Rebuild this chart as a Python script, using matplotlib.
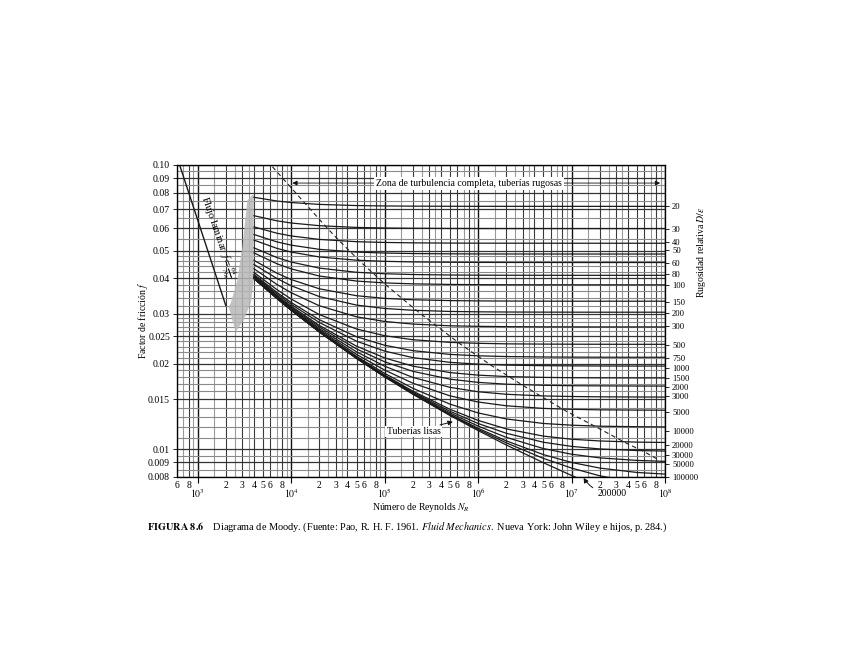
import matplotlib as mpl
mpl.use('Agg')
import matplotlib.pyplot as plt

plt.rcParams['font.family'] = ['Liberation Serif', 'DejaVu Serif']
plt.rcParams['mathtext.fontset'] = 'stix'
plt.rcParams['font.size'] = 7

# numero de Reynolds donde se leen las curvas
re_pts = [4e3, 7e3, 1e4, 2e4, 5e4, 1e5, 2e5, 5e5, 1e6, 2e6, 5e6, 1e7, 2e7, 5e7, 1e8]

f_20 = [.07699, .07473, .07380, .07269, .07201, .07178, .07167, .07160, .07157, .07156, .07156, .07155, .07155, .07155, .07155]
f_30 = [.06633, .06366, .06253, .06118, .06033, .06005, .05991, .05982, .05979, .05978, .05977, .05976, .05976, .05976, .05976]
f_40 = [.06059, .05759, .05631, .05474, .05375, .05342, .05325, .05315, .05311, .05310, .05309, .05308, .05308, .05308, .05308]
f_50 = [.05696, .05369, .05227, .05052, .04941, .04903, .04883, .04872, .04868, .04866, .04865, .04864, .04864, .04864, .04864]
f_60 = [.05444, .05095, .04942, .04750, .04627, .04585, .04563, .04550, .04545, .04543, .04542, .04541, .04541, .04541, .04541]
f_80 = [.05114, .04731, .04559, .04340, .04196, .04146, .04120, .04104, .04099, .04096, .04095, .04094, .04094, .04094, .04094]
f_100 = [.04908, .04499, .04313, .04071, .03908, .03850, .03821, .03803, .03796, .03793, .03792, .03791, .03791, .03790, .03790]
f_150 = [.04621, .04169, .03956, .03671, .03471, .03397, .03359, .03336, .03328, .03324, .03321, .03320, .03320, .03320, .03320]
f_200 = [.04471, .03993, .03763, .03447, .03217, .03131, .03085, .03056, .03047, .03042, .03039, .03038, .03037, .03037, .03037]
f_300 = [.04317, .03807, .03556, .03200, .02926, .02818, .02759, .02721, .02709, .02702, .02698, .02697, .02696, .02696, .02696]
f_500 = [.04189, .03651, .03379, .02979, .02651, .02511, .02431, .02379, .02361, .02351, .02346, .02344, .02343, .02342, .02342]
f_750 = [.04124, .03570, .03286, .02858, .02490, .02324, .02225, .02158, .02134, .02121, .02114, .02111, .02110, .02109, .02109]
f_1000 = [.04091, .03529, .03238, .02795, .02402, .02217, .02103, .02024, .01994, .01979, .01970, .01967, .01965, .01964, .01964]
f_1500 = [.04058, .03487, .03189, .02729, .02307, .02098, .01963, .01863, .01825, .01804, .01792, .01787, .01785, .01784, .01784]
f_2000 = [.04041, .03466, .03164, .02695, .02256, .02033, .01882, .01766, .01721, .01696, .01681, .01675, .01673, .01671, .01670]
f_3000 = [.04024, .03444, .03139, .02660, .02204, .01962, .01792, .01653, .01595, .01563, .01542, .01535, .01531, .01529, .01528]
f_5000 = [.04011, .03427, .03119, .02632, .02159, .01901, .01710, .01543, .01468, .01424, .01394, .01384, .01378, .01375, .01374]
f_10000 = [.04001, .03414, .03104, .02610, .02125, .01851, .01641, .01443, .01344, .01280, .01234, .01217, .01207, .01202, .01200]
f_20000 = [.03996, .03408, .03096, .02599, .02107, .01826, .01604, .01384, .01265, .01181, .01114, .01086, .01071, .01061, .01058]
f_30000 = [.03994, .03405, .03093, .02596, .02101, .01817, .01591, .01362, .01234, .01140, .01060, .01025, .01004, .00991, .00987]
f_50000 = [.03993, .03404, .03091, .02593, .02096, .01810, .01580, .01344, .01208, .01103, .01007, .00962, .00934, .00915, .00908]
f_100000 = [.03992, .03402, .03090, .02591, .02093, .01804, .01572, .01330, .01187, .01072, .00959, .00900, .00860, .00830, .00819]
f_200000 = [.03991, .03402, .03089, .02589, .02091, .01802, .01568, .01323, .01176, .01055, .00930, .00860, .00808, .00765, .00747]
f_lisa = [.03991, .03401, .03088, .02588, .02089, .01799, .01564, .01316, .01165, .01037, .00898, .00810, .00734, .00649, .00594]

curves = [f_20, f_30, f_40, f_50, f_60, f_80, f_100, f_150, f_200, f_300, f_500, f_750, f_1000,
          f_1500, f_2000, f_3000, f_5000, f_10000, f_20000, f_30000, f_50000, f_100000, f_200000, f_lisa]

lam_re = [600, 2000]
lam_f = [0.1067, 0.032]
trans_re = [3850, 3400, 3006, 2658, 2254, 2146, 2547, 3105, 3690, 3975, 3975]
trans_f = [0.0784, 0.0753, 0.0516, 0.0394, 0.0327, 0.0317, 0.0259, 0.0285, 0.0327, 0.0394, 0.0784]
dash_re = [6300, 1.5e4, 2.45e4, 3.47e4, 5.63e4, 1.03e5, 2.3e5, 6.53e5, 1.43e6, 3.1e6, 8.53e6, 1.83e7, 3.9e7, 6.05e7, 8.5e7]
dash_f = [0.0986, 0.0716, 0.0598, 0.0531, 0.0454, 0.0379, 0.0304, 0.0234, 0.0196, 0.0167, 0.0137, 0.0120, 0.0105, 0.0098, 0.0092]

right_lbl = ['20', '30', '40', '50', '60', '80', '100', '150', '200', '300', '500', '750', '1000',
             '1500', '2000', '3000', '5000', '10000', '20000', '30000', '50000', '100000']
right_f = [0.0719, 0.0594, 0.0536, 0.0502, 0.0451, 0.0412, 0.0377, 0.0328, 0.0301, 0.0271, 0.0233,
           0.0209, 0.0192, 0.0177, 0.0165, 0.0153, 0.0135, 0.01157, 0.01033, 0.00947, 0.00883, 0.00795]
left_ticks = [0.10, 0.09, 0.08, 0.07, 0.06, 0.05, 0.04, 0.03, 0.025, 0.02, 0.015, 0.01, 0.009, 0.008]
left_lbl = ['0.10', '0.09', '0.08', '0.07', '0.06', '0.05', '0.04', '0.03', '0.025', '0.02', '0.015',
            '0.01', '0.009', '0.008']
y_light = [0.0085, 0.0095, 0.011, 0.012, 0.013, 0.014, 0.016, 0.017, 0.018, 0.019, 0.021, 0.022,
           0.023, 0.024, 0.026, 0.027, 0.028, 0.029, 0.032, 0.034, 0.036, 0.038, 0.042, 0.044,
           0.046, 0.048, 0.055, 0.065, 0.075, 0.085, 0.095]

fig = plt.figure(figsize=(8.48, 6.72), dpi=100)
ax = fig.add_axes([177 / 848, 1 - 477 / 672, 488 / 848, 312 / 672])
ax.set_xscale('log')
ax.set_yscale('log')
ax.set_xlim(600, 1e8)
ax.set_ylim(0.008, 0.1)

# rejilla
for dec in [1e2, 1e3, 1e4, 1e5, 1e6, 1e7]:
    for m in [1.5, 2.5, 3.5, 7, 9]:
        ax.axvline(dec * m, color='#9a9a9a', lw=0.8, zorder=0)
    for m in [2, 3, 4, 5, 6, 8]:
        ax.axvline(dec * m, color='#3a3a3a', lw=0.8, zorder=0)
    ax.axvline(dec * 10, color='#111111', lw=1.0, zorder=0)
for v in y_light:
    ax.axhline(v, color='#8a8a8a', lw=0.8, zorder=0)
for v in left_ticks:
    ax.axhline(v, color='#333333', lw=0.9, zorder=0)

ax.fill(trans_re, trans_f, color='#b8b8b8', alpha=0.85, lw=0, zorder=1)
ax.plot(lam_re, lam_f, color='#1a1a1a', lw=1.0, zorder=3)
for c in curves:
    ax.plot(re_pts, c, color='#1a1a1a', lw=0.9, zorder=3)
ax.plot(dash_re, dash_f, color='#222222', lw=0.8, dashes=(4, 3), zorder=3)

ax.text(1597, 0.0558, 'Flujo laminar  $f = \\frac{64}{N_R}$', rotation=-71, ha='center', va='center',
        rotation_mode='anchor', size=7.5, zorder=4)
ax.text(7.9e5, 0.0864, 'Zona de turbulencia completa, tuberías rugosas', ha='center', va='center',
        size=7, zorder=5, bbox=dict(facecolor='white', edgecolor='none', pad=1.5))
ax.annotate('', xy=(9600, 0.0864), xytext=(9e4, 0.0864), zorder=4,
            arrowprops=dict(arrowstyle='-|>', color='#111111', lw=0.6, mutation_scale=7))
ax.annotate('', xy=(9.5e7, 0.0864), xytext=(6.8e6, 0.0864), zorder=4,
            arrowprops=dict(arrowstyle='-|>', color='#111111', lw=0.6, mutation_scale=7))
ax.annotate('Tuberías lisas', xy=(5.74e5, 0.01258), xytext=(2.04e5, 0.01157), ha='center', va='center',
            size=7, zorder=5, bbox=dict(facecolor='white', edgecolor='none', pad=1),
            arrowprops=dict(arrowstyle='-|>', color='#111111', lw=0.7, mutation_scale=7))
ax.annotate('200000', xy=(1.3e7, 0.0081), xytext=(2.74e7, 0.00701), ha='center', va='center',
            size=7, annotation_clip=False, zorder=5,
            arrowprops=dict(arrowstyle='-|>', color='#111111', lw=0.7, mutation_scale=7,
                            connectionstyle='arc3,rad=-0.3', shrinkA=2))

# ejes
ax.set_yticks(left_ticks, left_lbl)
ax.yaxis.set_minor_locator(mpl.ticker.NullLocator())
ax.tick_params(axis='y', length=3, width=0.6, pad=2)
ax.set_xticks([1e3, 1e4, 1e5, 1e6, 1e7, 1e8],
              ['$10^3$', '$10^4$', '$10^5$', '$10^6$', '$10^7$', '$10^8$'])
minor_x = [6e2, 8e2]
minor_lbl = ['6', '8']
for dec in [1e3, 1e4, 1e5, 1e6, 1e7]:
    for m in [2, 3, 4, 5, 6, 8]:
        minor_x.append(dec * m)
        minor_lbl.append(str(m))
ax.set_xticks(minor_x, minor_lbl, minor=True)
ax.tick_params(axis='x', which='major', length=4, width=0.8, pad=3)
ax.tick_params(axis='x', which='minor', length=0, pad=3)
for s in ax.spines.values():
    s.set_linewidth(0.9)

ax2 = ax.twinx()
ax2.set_yscale('log')
ax2.set_ylim(0.008, 0.1)
ax2.set_yticks(right_f, right_lbl)
ax2.yaxis.set_minor_locator(mpl.ticker.NullLocator())
ax2.tick_params(axis='y', length=3, width=0.6, pad=2, labelsize=6.2)

fig.text(421 / 848, 1 - 508 / 672, 'Número de Reynolds $N_R$', ha='center', va='center', size=7)
fig.text(143 / 848, 1 - 320 / 672, 'Factor de fricción $f$', ha='center', va='center', rotation=90, size=7)
fig.text(702 / 848, 1 - 252 / 672, 'Rugosidad relativa $D/\\epsilon$', ha='center', va='center',
         rotation=90, size=7)
fig.text(147 / 848, 1 - 527 / 672,
         '$\\mathbf{FIGURA\\ 8.6}$    Diagrama de Moody. (Fuente: Pao, R. H. F. 1961. '
         '$\\mathit{Fluid\\ Mechanics.}$ Nueva York: John Wiley e hijos, p. 284.)',
         ha='left', va='center', size=7.4)

fig.savefig('out.png')
